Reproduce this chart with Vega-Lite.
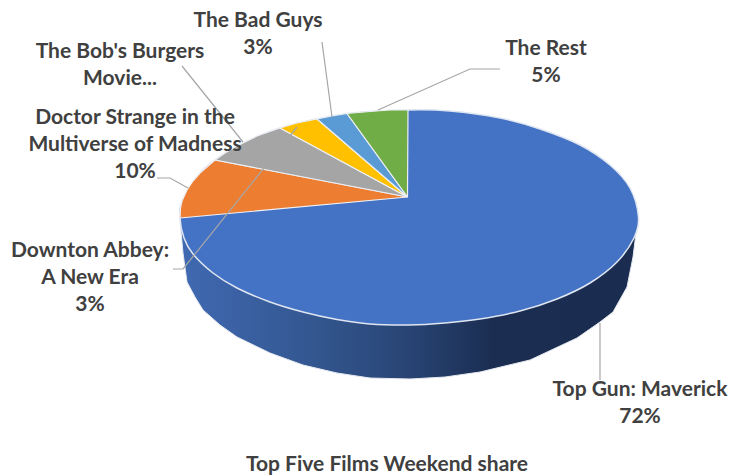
{
"$schema":"https://vega.github.io/schema/vega-lite/v6.json",
"width":729,"height":476,"padding":0,
"autosize":{"type":"fit","contains":"padding"},
"background":"white",
"view":{"stroke":null},
"datasets":{
"side":[{"x":180,"y":217,"y2":220},{"x":183,"y":217,"y2":253},{"x":187,"y":217,"y2":282},{"x":195,"y":217,"y2":297},{"x":203,"y":217,"y2":310},{"x":220,"y":217,"y2":325},{"x":237,"y":217,"y2":337},{"x":270,"y":217,"y2":353},{"x":303,"y":217,"y2":365},{"x":337,"y":217,"y2":373},{"x":370,"y":217,"y2":378},{"x":410,"y":217,"y2":379},{"x":445,"y":217,"y2":377},{"x":480,"y":217,"y2":372},{"x":530,"y":217,"y2":360},{"x":577,"y":217,"y2":338},{"x":600,"y":217,"y2":322},{"x":613,"y":217,"y2":312},{"x":627,"y":217,"y2":287},{"x":633,"y":217,"y2":257},{"x":636,"y":217,"y2":233},{"x":638,"y":217,"y2":220}],
"main":[{"o":1,"x":408,"y":110},{"o":2,"x":450,"y":111},{"o":3,"x":500,"y":118},{"o":4,"x":540,"y":129},{"o":5,"x":580,"y":145},{"o":6,"x":610,"y":165},{"o":7,"x":630,"y":188},{"o":8,"x":638.5,"y":217},{"o":9,"x":634,"y":238},{"o":10,"x":617,"y":262},{"o":11,"x":590,"y":283},{"o":12,"x":557,"y":299},{"o":13,"x":520,"y":311},{"o":14,"x":480,"y":319},{"o":15,"x":445,"y":323},{"o":16,"x":409,"y":325},{"o":17,"x":370,"y":324},{"o":18,"x":337,"y":319.5},{"o":19,"x":303,"y":312},{"o":20,"x":270,"y":302},{"o":21,"x":237,"y":288},{"o":22,"x":213,"y":273},{"o":23,"x":193,"y":254},{"o":24,"x":184,"y":238},{"o":25,"x":180,"y":218},{"o":26,"x":182,"y":201},{"o":27,"x":200,"y":173},{"o":28,"x":215,"y":160},{"o":29,"x":237,"y":146},{"o":30,"x":280,"y":128},{"o":31,"x":347,"y":113.5}],
"slices":[
{"s":"Doctor Strange in the Multiverse of Madness","o":1,"x":407.5,"y":197},{"s":"Doctor Strange in the Multiverse of Madness","o":2,"x":180,"y":218},{"s":"Doctor Strange in the Multiverse of Madness","o":3,"x":180.5,"y":208},{"s":"Doctor Strange in the Multiverse of Madness","o":4,"x":182,"y":201},{"s":"Doctor Strange in the Multiverse of Madness","o":5,"x":187,"y":190},{"s":"Doctor Strange in the Multiverse of Madness","o":6,"x":193,"y":181},{"s":"Doctor Strange in the Multiverse of Madness","o":7,"x":200,"y":173},{"s":"Doctor Strange in the Multiverse of Madness","o":8,"x":215,"y":160},{"s":"Doctor Strange in the Multiverse of Madness","o":9,"x":407.5,"y":197},
{"s":"Downton Abbey: A New Era","o":1,"x":407.5,"y":197},{"s":"Downton Abbey: A New Era","o":2,"x":215,"y":160},{"s":"Downton Abbey: A New Era","o":3,"x":225,"y":153},{"s":"Downton Abbey: A New Era","o":4,"x":237,"y":146},{"s":"Downton Abbey: A New Era","o":5,"x":257,"y":136},{"s":"Downton Abbey: A New Era","o":6,"x":280,"y":128},{"s":"Downton Abbey: A New Era","o":7,"x":407.5,"y":197},
{"s":"The Bob's Burgers Movie","o":1,"x":407.5,"y":197},{"s":"The Bob's Burgers Movie","o":2,"x":280,"y":128},{"s":"The Bob's Burgers Movie","o":3,"x":297,"y":123},{"s":"The Bob's Burgers Movie","o":4,"x":317,"y":119},{"s":"The Bob's Burgers Movie","o":5,"x":407.5,"y":197},
{"s":"The Bad Guys","o":1,"x":407.5,"y":197},{"s":"The Bad Guys","o":2,"x":317,"y":119},{"s":"The Bad Guys","o":3,"x":332,"y":116},{"s":"The Bad Guys","o":4,"x":347,"y":113.5},{"s":"The Bad Guys","o":5,"x":407.5,"y":197},
{"s":"The Rest","o":1,"x":407.5,"y":197},{"s":"The Rest","o":2,"x":347,"y":113.5},{"s":"The Rest","o":3,"x":370,"y":111.5},{"s":"The Rest","o":4,"x":390,"y":110},{"s":"The Rest","o":5,"x":408,"y":110},{"s":"The Rest","o":6,"x":407.5,"y":197}
],
"leaders":[
{"l":"top","o":1,"x":600,"y":323},{"l":"top","o":2,"x":600,"y":380},
{"l":"rest","o":1,"x":378,"y":110},{"l":"rest","o":2,"x":470,"y":69},{"l":"rest","o":3,"x":500,"y":69},
{"l":"bad","o":1,"x":332,"y":117},{"l":"bad","o":2,"x":322,"y":42},
{"l":"bob","o":1,"x":243,"y":142},{"l":"bob","o":2,"x":182,"y":66},
{"l":"doc","o":1,"x":188,"y":188},{"l":"doc","o":2,"x":170,"y":178},{"l":"doc","o":3,"x":157,"y":178},
{"l":"down","o":1,"x":173,"y":269},{"l":"down","o":2,"x":183,"y":269},{"l":"down","o":3,"x":297,"y":127}
],
"labels":[
{"label":"The Bad Guys\n3%","x":258,"y":21},
{"label":"The Bob's Burgers\nMovie...","x":120,"y":52},
{"label":"Doctor Strange in the\nMultiverse of Madness\n10%","x":135,"y":118},
{"label":"Downton Abbey:\nA New Era\n3%","x":90,"y":251},
{"label":"The Rest\n5%","x":546,"y":49},
{"label":"Top Gun: Maverick\n72%","x":640,"y":390}
],
"title":[{"label":"Top Five Films Weekend share","x":387,"y":465}]
},
"encoding":{
"x":{"field":"x","type":"quantitative","axis":null,"scale":{"domain":[0,729],"nice":false,"zero":false}},
"y":{"field":"y","type":"quantitative","axis":null,"scale":{"domain":[476,0],"nice":false,"zero":false}}
},
"layer":[
{"data":{"name":"side"},"mark":{"type":"area","stroke":"#e4e8ef","strokeWidth":1,"fill":{"gradient":"linear","x1":0,"x2":1,"y1":0,"y2":0,"stops":[{"offset":0,"color":"#4069b2"},{"offset":0.3,"color":"#33568f"},{"offset":0.5,"color":"#284474"},{"offset":0.68,"color":"#1b2e52"},{"offset":1,"color":"#1a2c4f"}]}},"encoding":{"y2":{"field":"y2"}}},
{"data":{"name":"main"},"mark":{"type":"line","interpolate":"cardinal-closed","fill":"#4472c4","stroke":"#dfe6f2","strokeWidth":1.5},"encoding":{"order":{"field":"o"}}},
{"data":{"name":"slices"},"mark":{"type":"line","stroke":"#eef0f4","strokeWidth":1.2,"strokeJoin":"round"},"encoding":{"order":{"field":"o"},"detail":{"field":"s"},"fill":{"field":"s","type":"nominal","legend":null,"scale":{"domain":["Doctor Strange in the Multiverse of Madness","Downton Abbey: A New Era","The Bob's Burgers Movie","The Bad Guys","The Rest"],"range":["#ed7d31","#a5a5a5","#ffc000","#5b9bd5","#70ad47"]}}}},
{"data":{"name":"leaders"},"mark":{"type":"line","stroke":"#a6a6a6","strokeWidth":1.2},"encoding":{"order":{"field":"o"},"detail":{"field":"l"}}},
{"data":{"name":"labels"},"mark":{"type":"text","font":"Lato","fontWeight":"bold","fontSize":21,"fill":"#404040","align":"center","baseline":"middle","lineBreak":"\n","lineHeight":27},"encoding":{"text":{"field":"label"}}},
{"data":{"name":"title"},"mark":{"type":"text","font":"Lato","fontWeight":"bold","fontSize":21,"fill":"#404040","align":"center","baseline":"middle"},"encoding":{"text":{"field":"label"}}}
]
}
